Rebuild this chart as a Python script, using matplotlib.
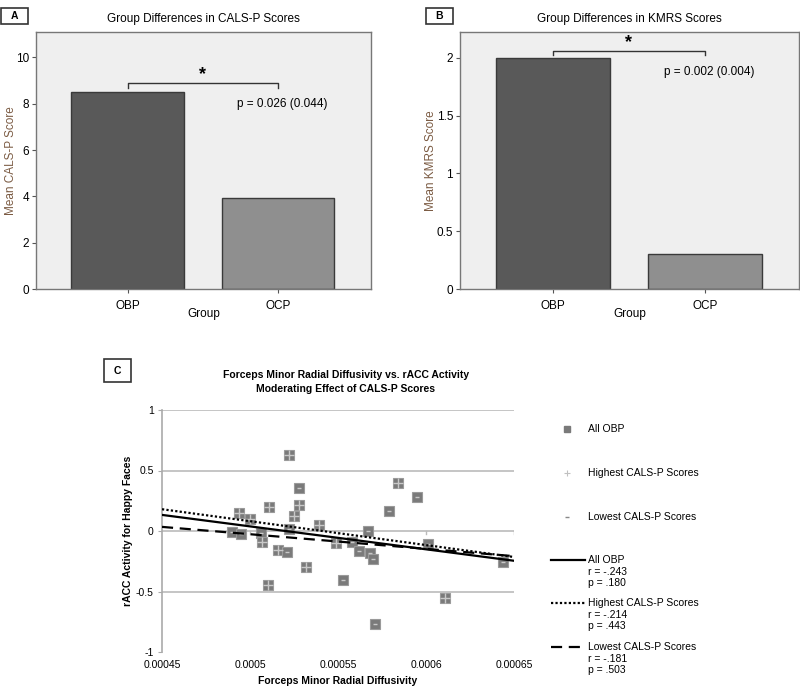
from pathlib import Path

import matplotlib.pyplot as plt
from matplotlib.patches import Rectangle
import numpy as np

# data
groups = ["OBP", "OCP"]
cals_means = [8.52, 3.95]
kmrs_means = [2.0, 0.30]
cals_p = "p = 0.026 (0.044)"
kmrs_p = "p = 0.002 (0.004)"

rd = [0.000522, 0.000528, 0.000528, 0.000525, 0.000511, 0.000494, 0.000500,
      0.000490, 0.000495, 0.000506, 0.000507, 0.000522, 0.000516, 0.000521,
      0.000532, 0.000510, 0.000539, 0.000549, 0.000553, 0.000558, 0.000562,
      0.000567, 0.000568, 0.000570, 0.000571, 0.000579, 0.000584, 0.000595,
      0.000601, 0.000611, 0.000644]
racc = [0.629, 0.353, 0.216, 0.120, 0.202, 0.147, 0.098,
        -0.012, -0.023, -0.018, -0.095, 0.015, -0.161, -0.175,
        -0.301, -0.444, 0.048, -0.100, -0.403, -0.087, -0.164,
        0.001, -0.178, -0.230, -0.766, 0.166, 0.395, 0.285,
        -0.106, -0.554, -0.257]
cals_group = ["H", "L", "H", "H", "H", "H", "H",
              "L", "L", "L", "H", "L", "H", "L",
              "H", "H", "H", "H", "L", "L", "L",
              "L", "L", "L", "L", "L", "H", "L",
              "L", "H", "L"]

fit_x = [0.00045, 0.00065]
fit_all = [0.133, -0.246]
fit_high = [0.180, -0.215]
fit_low = [0.034, -0.208]
fit_labels = [("All OBP", "r = -.243", "p = .180"),
              ("Highest CALS-P Scores", "r = -.214", "p = .443"),
              ("Lowest CALS-P Scores", "r = -.181", "p = .503")]


def bar_panel(fig, rect, means, ylim, yticks, yticklabels, ylabel, title,
              bracket, ptext, ppos, ylab_x):
    ax = fig.add_axes(rect)
    ax.set_facecolor("#EFEFEF")
    x = np.arange(len(groups))
    ax.bar(x, means, width=0.75, color=["#595959", "#8F8F8F"],
           edgecolor="#3A3A3A", linewidth=1.0, zorder=2)
    ax.set_xlim(-0.61, 1.62)
    ax.set_ylim(*ylim)
    ax.set_xticks(x)
    ax.set_xticklabels(groups, fontsize=8.5)
    ax.set_yticks(yticks)
    ax.set_yticklabels(yticklabels, fontsize=8.5)
    ax.tick_params(length=3, width=0.8, color="#555555", pad=2)
    ax.tick_params(axis="x", pad=5)
    for s in ax.spines.values():
        s.set_color("#777777")
        s.set_linewidth(1.0)
    ax.set_xlabel("Group", fontsize=8.5, labelpad=-3)
    ax.set_ylabel(ylabel, fontsize=8.5, color="#7B5B43")
    ax.yaxis.set_label_coords(ylab_x, 0.5)
    ax.set_title(title, fontsize=8.5, pad=7)
    top, low = bracket
    ax.plot([0, 0, 1, 1], [low, top, top, low], color="#333333", lw=1.0,
            zorder=3)
    ax.text(0.5, top, "*", ha="center", va="bottom", fontsize=13,
            fontweight="bold")
    ax.text(ppos[0], ppos[1], ptext, ha="left", va="center", fontsize=8.5)
    return ax


def main() -> None:
    # config
    fp: Path = Path(__file__).resolve().parent / "out.png"
    plt.rcParams["font.family"] = ["Liberation Sans", "DejaVu Sans"]
    narrow = ["Liberation Sans Narrow", "Liberation Sans", "DejaVu Sans"]
    W, H = 800, 687
    fig = plt.figure(figsize=(W / 100, H / 100), dpi=100)
    fig.set_facecolor("white")

    def rect(l, t, r, b):
        return [l / W, 1 - b / H, (r - l) / W, (b - t) / H]

    # panel A
    bar_panel(fig, rect(36, 32, 371, 289), cals_means, (0, 11.1),
              [0, 2, 4, 6, 8, 10], ["0", "2", "4", "6", "8", "10"],
              "Mean CALS-P Score", "Group Differences in CALS-P Scores",
              (8.9, 8.68), cals_p, (0.73, 7.97), -0.057)
    # panel B
    bar_panel(fig, rect(460, 32, 799, 289), kmrs_means, (0, 2.225),
              [0, 0.5, 1, 1.5, 2], ["0", "0.5", "1", "1.5", "2"],
              "Mean KMRS Score", "Group Differences in KMRS Scores",
              (2.063, 2.03), kmrs_p, (0.73, 1.88), -0.068)

    # panel C
    ax = fig.add_axes(rect(162, 410, 514, 652))
    ax.set_xlim(0.00045, 0.00065)
    ax.set_ylim(-1, 1)
    for s in ["top", "right", "bottom"]:
        ax.spines[s].set_visible(False)
    ax.spines["left"].set_color("#AAAAAA")
    ax.spines["left"].set_linewidth(1.2)
    for yv in [1, 0.5, 0, -0.5]:
        ax.axhline(yv, color="#BBBBBB", lw=1.2, zorder=0)
    xt = [0.00045, 0.0005, 0.00055, 0.0006, 0.00065]
    ax.set_xticks(xt)
    ax.set_xticklabels(["0.00045", "0.0005", "0.00055", "0.0006", "0.00065"],
                       fontsize=7.5, family=narrow)
    ax.tick_params(axis="x", length=0, pad=6)
    ax.set_yticks([-1, -0.5, 0, 0.5, 1])
    ax.set_yticklabels(["-1", "-0.5", "0", "0.5", "1"], fontsize=7.5,
                       family=narrow)
    ax.tick_params(axis="y", length=3, color="#AAAAAA", pad=3)
    for v in xt[1:]:
        ax.plot([v, v], [0, -0.025], color="#BBBBBB", lw=1.0, zorder=0)

    rd_a = np.array(rd)
    racc_a = np.array(racc)
    grp = np.array(cals_group)
    ax.plot(rd_a, racc_a, ls="", marker="s", ms=7.5, mfc="#7A7A7A",
            mec="#9A9A9A", mew=0.8, zorder=3)
    hi = grp == "H"
    lo = grp == "L"
    ax.plot(rd_a[hi], racc_a[hi], ls="", marker="+", ms=7.5, mew=1.0,
            color="#C8C8C8", zorder=4)
    ax.plot(rd_a[lo], racc_a[lo], ls="", marker="_", ms=3.5, mew=1.0,
            color="#C8C8C8", zorder=4)
    ax.plot(fit_x, fit_all, color="black", lw=1.6, zorder=5)
    ax.plot(fit_x, fit_high, color="black", lw=1.6, ls=(0, (1, 1)), zorder=5)
    ax.plot(fit_x, fit_low, color="black", lw=1.6, ls=(0, (5, 3)), zorder=5)

    ax.set_ylabel("rACC Activity for Happy Faces", fontsize=7.5,
                  fontweight="bold", family=narrow)
    ax.yaxis.set_label_coords(-0.082, 0.5)
    ax.set_xlabel("Forceps Minor Radial Diffusivity", fontsize=7.5,
                  fontweight="bold", family=narrow, labelpad=4)

    # overlay for panel tags, title and legend
    ov = fig.add_axes([0, 0, 1, 1], zorder=-1)
    ov.set_xlim(0, W)
    ov.set_ylim(H, 0)
    ov.axis("off")
    for lab, (x0, y0) in zip(["A", "B", "C"], [(1, 8), (426, 8), (104, 359)]):
        ov.add_patch(Rectangle((x0, y0), 27, 16 if lab != "C" else 23,
                               fill=False, ec="#333333", lw=1.2))
        ov.text(x0 + 13.5, y0 + (8 if lab != "C" else 11.5), lab,
                ha="center", va="center", fontsize=7.5, fontweight="bold")
    ov.text(346, 375, "Forceps Minor Radial Diffusivity vs. rACC Activity",
            ha="center", va="center", fontsize=7.5, fontweight="bold",
            family=narrow)
    ov.text(346, 389, "Moderating Effect of CALS-P Scores",
            ha="center", va="center", fontsize=7.5, fontweight="bold",
            family=narrow)

    # legend: markers
    ov.plot([567], [429], ls="", marker="s", ms=5, color="#7A7A7A")
    ov.plot([567], [473], ls="", marker="+", ms=5, mew=0.8, color="#C0C0C0")
    ov.plot([567], [517], ls="", marker="_", ms=3, mew=1.0, color="#888888")
    for y, t in zip([429, 473, 517],
                    ["All OBP", "Highest CALS-P Scores",
                     "Lowest CALS-P Scores"]):
        ov.text(588, y, t, ha="left", va="center", fontsize=7.5,
                family=narrow)
    # legend: fit lines
    styles = ["-", (0, (1, 1)), (0, (5, 3))]
    for y, st, lines in zip([560, 603, 647], styles, fit_labels):
        ov.plot([551, 585], [y, y], color="black", lw=1.6, ls=st)
        for i, t in enumerate(lines):
            ov.text(588, y + i * 11.7, t, ha="left", va="center",
                    fontsize=7.5, family=narrow)

    # output
    fig.savefig(fp, dpi=100, facecolor="white")
    plt.close(fig)
    return None


if __name__ == "__main__":
    main()
